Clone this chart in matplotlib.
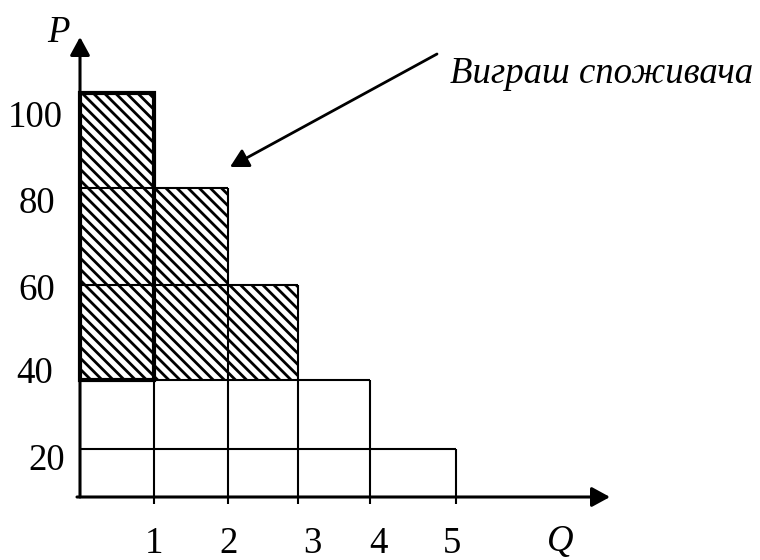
import numpy as np
import matplotlib
matplotlib.use("Agg")
import matplotlib.pyplot as plt

# ---- data ----
q_units = [1, 2, 3, 4, 5]                 # unit number (right edge of each step)
wtp = [100, 80, 60, 40, 20]               # willingness to pay per unit
price = 40                                # market price
p_ticks = [100, 80, 60, 40, 20]
p_tick_labels = ["100", "80", "60", "40", "20"]
q_tick_labels = ["1", "2", "3", "4", "5"]
annot_text = "Виграш споживача"
x_name, y_name = "Q", "P"

# ---- layout (hand-drawn scale calibration, in pixels) ----
W, H = 760, 560
Q_anchor = [0, 1, 2, 3, 4, 5]
X_px = [80, 154, 228, 298, 370, 456]
P_anchor = [0, 20, 40, 60, 80, 100]
Y_px = [497, 449, 380, 285, 188, 93]

q_label_pos = [1.0, 2.01, 3.2, 4.1, 4.95]
q_label_base = 553
p_label_right = [63, 55, 55, 53, 65]
p_label_base = [127, 213, 300, 383, 470]

plt.rcParams['hatch.linewidth'] = 2.0
FONT = 'Liberation Serif'
FS = 26.5


def piecewise(src, dst):
    src = np.asarray(src, float)
    dst = np.asarray(dst, float)
    s0 = (dst[1] - dst[0]) / (src[1] - src[0])
    s1 = (dst[-1] - dst[-2]) / (src[-1] - src[-2])

    def f(v):
        v = np.asarray(v, float)
        out = np.interp(v, src, dst)
        out = np.where(v < src[0], dst[0] + (v - src[0]) * s0, out)
        out = np.where(v > src[-1], dst[-1] + (v - src[-1]) * s1, out)
        return out
    return f


Yup = [H - y for y in Y_px]
xf, xi = piecewise(Q_anchor, X_px), piecewise(X_px, Q_anchor)
yf, yi = piecewise(P_anchor, Yup), piecewise(Yup, P_anchor)

fig = plt.figure(figsize=(W / 100, H / 100), dpi=100)
ax = fig.add_axes([0, 0, 1, 1])
ax.set_xscale('function', functions=(xf, xi))
ax.set_yscale('function', functions=(yf, yi))
ax.set_xlim(float(xi(0)), float(xi(W)))
ax.set_ylim(float(yi(0)), float(yi(H)))
ax.axis('off')


def fpx(x, y):
    return (x / W, 1 - y / H)


q_left = [q - 1 for q in q_units]

# hatched consumer surplus
surplus_left = [l for l, v in zip(q_left, wtp) if v > price]
surplus_h = [v - price for v in wtp if v > price]
ax.bar(surplus_left, surplus_h, width=1, bottom=price, align='edge',
       color='white', edgecolor='black', hatch='\\\\\\', linewidth=0, zorder=1)

# demand steps: horizontal level lines to axis and vertical edges
below = float(yi(H - 504))
ax.hlines(wtp, 0, q_units, colors='black', lw=1.5, zorder=3)
ax.vlines(q_units, below, wtp, colors='black', lw=1.5, zorder=3)

# thick outline of first unit's surplus
ax.bar([q_left[0]], [wtp[0] - price], width=1, bottom=price, align='edge',
       fill=False, edgecolor='black', linewidth=3.0, zorder=4,
       joinstyle='miter')

# axes with arrows
ap = dict(arrowstyle='-|>,head_length=0.55,head_width=0.3', color='black',
          lw=2.2, shrinkA=0, shrinkB=0, mutation_scale=20)
ax.annotate('', xy=(0, float(yi(H - 37))), xytext=(0, 0), arrowprops=ap,
            zorder=5)
ax.annotate('', xy=(float(xi(610)), 0), xytext=(float(xi(77)), 0),
            arrowprops=ap, zorder=5)

# annotation arrow
ax.annotate('', xy=fpx(230, 167), xytext=fpx(437, 54),
            xycoords='figure fraction', textcoords='figure fraction',
            arrowprops=dict(ap, lw=2.0))
fig.text(*fpx(450, 83), annot_text, fontsize=FS, family=FONT,
         style='italic', ha='left', va='baseline')

# axis names
fig.text(*fpx(58, 42), y_name, fontsize=FS, family=FONT, style='italic',
         ha='center', va='baseline')
fig.text(*fpx(560, 551), x_name, fontsize=FS, family=FONT, style='italic',
         ha='center', va='baseline')

# tick labels
trans_x = matplotlib.transforms.blended_transform_factory(ax.transData,
                                                          fig.transFigure)
for pos, lab in zip(q_label_pos, q_tick_labels):
    ax.text(pos, 1 - q_label_base / H, lab, transform=trans_x, fontsize=FS,
            family=FONT, ha='center', va='baseline')
for r, b, lab in zip(p_label_right, p_label_base, p_tick_labels):
    fig.text(*fpx(r, b), lab, fontsize=FS, family=FONT, ha='right',
             va='baseline')

fig.savefig('out.png', dpi=100)
